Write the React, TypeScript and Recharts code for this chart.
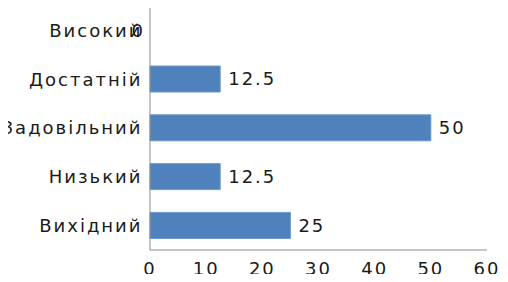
import { BarChart, Bar, XAxis, YAxis, LabelList } from 'recharts';

const categories = ['Високий', 'Достатній', 'Задовільний', 'Низький', 'Вихідний'];
const values = [0, 12.5, 50, 12.5, 25];
const xTicks = [0, 10, 20, 30, 40, 50, 60];

const data = categories.map((name, i) => ({ name, value: values[i] }));

const font = { fontFamily: 'DejaVu Sans', fontSize: 18, fill: '#1a1a1a', letterSpacing: 2 };

function ValueLabel(props: any) {
  const { x, y, width, height, value } = props;
  if (!width) return null;
  return (
    <text x={x + width + 8} y={y + height / 2} dy="0.35em" {...font}>
      {value}
    </text>
  );
}

// category tick; a zero-valued bar gets its value label drawn here, over the end of the name
function CategoryTick(props: any) {
  const { x, y, payload } = props;
  const v = values[payload.index];
  return (
    <g>
      <text x={x + 0.5} y={y} dy="0.35em" textAnchor="end" {...font} letterSpacing={2}>
        {payload.value}
      </text>
      {v === 0 && (
        <text x={x + 3} y={y} dy="0.35em" textAnchor="end" {...font}>
          {v}
        </text>
      )}
    </g>
  );
}

export default function App() {
  return (
    <div style={{ margin: -8, width: 508, height: 282, background: '#fff' }}>
      <BarChart
        width={508}
        height={282}
        data={data}
        layout="vertical"
        margin={{ top: 6, right: 21, bottom: 0, left: 0 }}
        barCategoryGap="23%"
      >
        <XAxis
          type="number"
          domain={[0, 60]}
          ticks={xTicks}
          tickLine={false}
          tickMargin={6}
          height={32}
          stroke="#8c8c8c"
          tick={font}
          interval={0}
        />
        <YAxis
          type="category"
          dataKey="name"
          width={150}
          tickLine={false}
          tickMargin={2}
          stroke="#8c8c8c"
          tick={CategoryTick}
          interval={0}
        />
        <Bar dataKey="value" fill="#4f81bd" stroke="#6f98c9" strokeWidth={1} isAnimationActive={false}>
          <LabelList dataKey="value" content={ValueLabel} />
        </Bar>
      </BarChart>
    </div>
  );
}
